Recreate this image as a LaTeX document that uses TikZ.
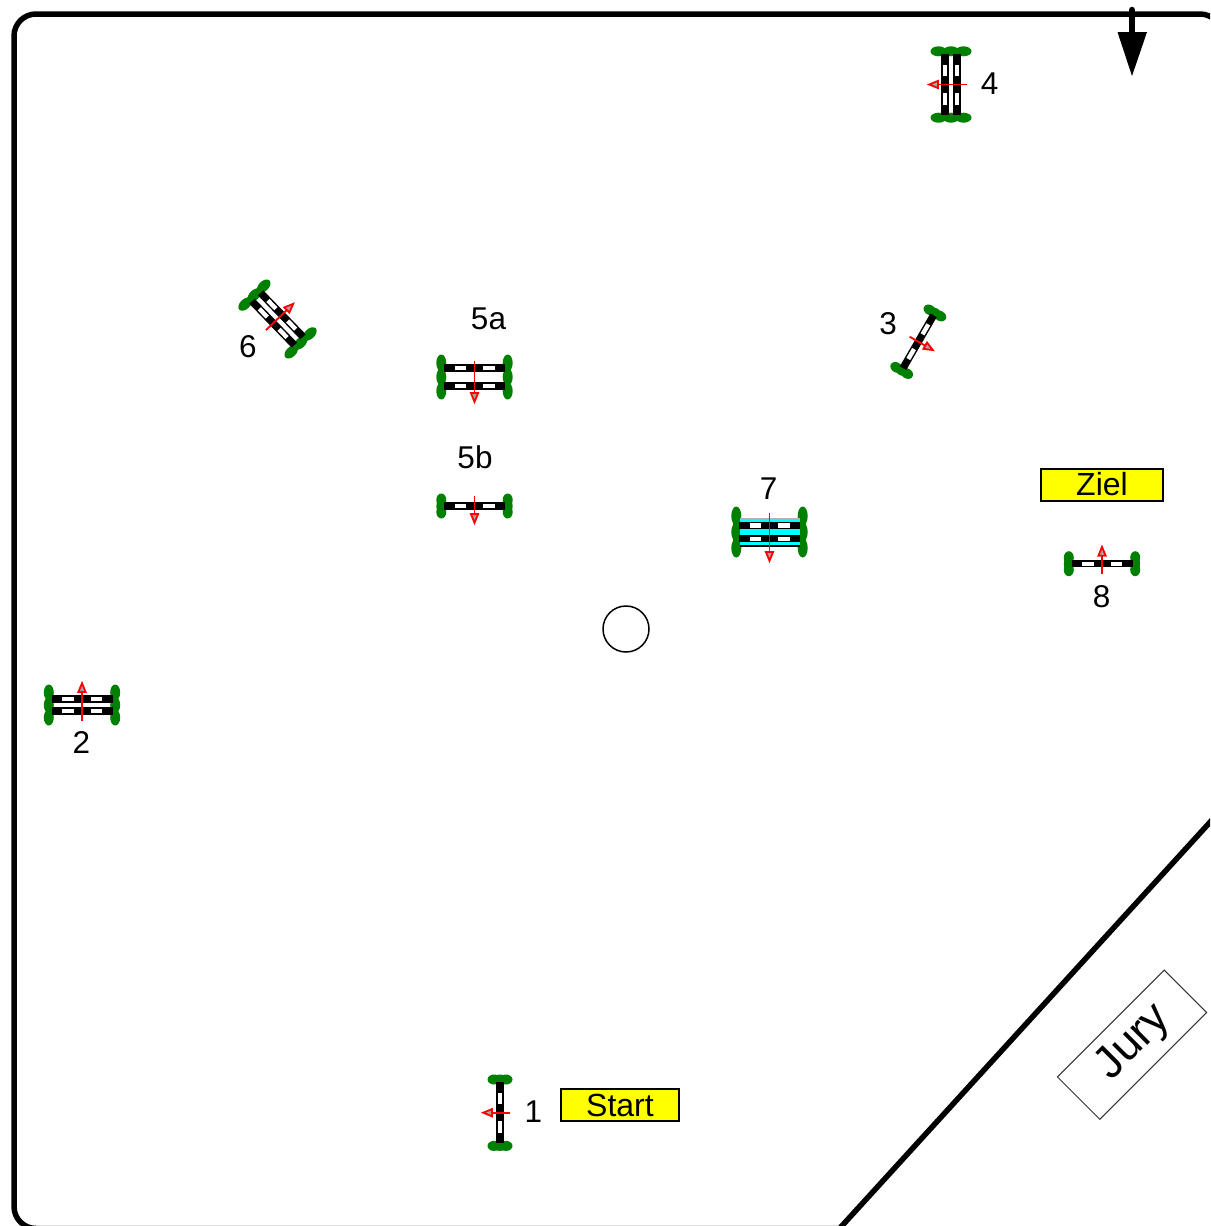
\documentclass[tikz,border=0pt]{standalone}
\usepackage{fontspec}
\setmainfont{Liberation Sans}
\definecolor{treegreen}{RGB}{0,128,0}
\definecolor{water}{RGB}{0,255,255}
\definecolor{flagfill}{RGB}{255,255,0}
\tikzset{
  arena/.style={line width=5.5pt,line join=miter},
  rail/.style={fill=black,draw=none},
  railgap/.style={fill=white,draw=none},
  tree/.style={fill=treegreen,draw=none},
  dirline/.style={draw=red,line width=1.8pt},
  dirhead/.style={draw=red,fill=gray!70,line width=1.8pt,line join=miter},
  lbl/.style={font=\fontsize{31.5}{31.5}\selectfont,inner sep=0pt,text=black},
  flag/.style={draw=black,fill=flagfill,line width=1.5pt,inner sep=0pt,font=\fontsize{32}{32}\selectfont},
}
% one rail at local offset #1
\newcommand{\fencerail}[1]{%
  \fill[rail] (-30.5,#1-3.7) rectangle (30.5,#1+3.7);
  \fill[railgap] (-20,#1-2.2) rectangle (-8.5,#1+2.2);
  \fill[railgap] (8.5,#1-2.2) rectangle (20,#1+2.2);
}
% wing trees: lobe half height (#1), lobes at +-(#2)
\newcommand{\fencetrees}[2]{%
  \foreach \sx in {-33.2,33.2}{
    \fill[tree] (\sx-3.2,-#2) rectangle (\sx+3.2,#2);
    \fill[tree] (\sx,0) ellipse [x radius=5,y radius=#1];
    \fill[tree] (\sx,-#2) ellipse [x radius=5,y radius=#1];
    \fill[tree] (\sx,#2) ellipse [x radius=5,y radius=#1];
  }
}
% direction arrow from local #1 to local #2 along +y
\newcommand{\fencearrow}[2]{%
  \draw[dirline] (0,#1) -- (0,#2-8);
  \filldraw[dirhead] (-3.6,#2-10) -- (3.6,#2-10) -- (0,#2-1.2) -- cycle;
}
% single: x y angle
\newcommand{\singlefence}[3]{%
  \begin{scope}[shift={(#1,#2)},rotate=#3]
    \fencetrees{6.5}{6}
    \fencerail{0}
    \fencearrow{-10}{18}
  \end{scope}
}
% oxer: x y angle half-spacing lobe-height lobe-offset arrow-end
\newcommand{\oxerfence}[7]{%
  \begin{scope}[shift={(#1,#2)},rotate=#3]
    \fencetrees{#5}{#6}
    \fencerail{-#4}
    \fencerail{#4}
    \fencearrow{-16}{#7}
  \end{scope}
}
\begin{document}
\begin{tikzpicture}[x=1pt,y=-1pt]
\useasboundingbox (0,0) rectangle (1210,1226);
\begin{scope}
\clip (0,0) rectangle (1210,1226);
\fill[white] (0,0) rectangle (1210,1226);
% arena outline
\draw[arena] (1222,809) -- (839.5,1228.5) [rounded corners=22pt] -- (14,1228.5) -- (14,14) -- (1222,14) -- (1222,809);
\end{scope}
% north arrow
\coordinate (northstart) at (1132,10);
\coordinate (northbase) at (1132,33);
\coordinate (northtip) at (1132,76);
\draw[line width=6.5pt,line cap=round] (northstart) -- (northbase);
\fill[black] (1117.5,32) -- (1147,32) -- (northtip) -- cycle;
% fences
\singlefence{500}{1112.7}{-90}
\oxerfence{82}{705}{180}{6}{8}{12.5}{23}
\singlefence{918.3}{341.7}{60}
\oxerfence{951}{84.5}{-90}{6}{8}{12.5}{23}
\oxerfence{474.5}{377}{0}{9}{8.5}{14}{26}
\singlefence{474.5}{506}{0}
\oxerfence{277.5}{319}{134}{6}{8}{13}{23}
% water fence 7
\begin{scope}[shift={(769.5,532)}]
  \fencetrees{9.5}{16}
  \fill[black] (-30,-14.5) rectangle (30,14.5);
  \fill[water] (-30,-12.8) rectangle (30,12.8);
  \fill[gray!60] (-30,-14.5) rectangle (30,-13.2);
  \fencerail{-6.7}
  \fencerail{6.7}
  \fencearrow{-19}{30}
\end{scope}
\singlefence{1102}{563.7}{180}
% labels
\node[lbl] (n1) at (533.5,1111.5) {1};
\node[lbl] (n2) at (81.5,742.5) {2};
\node[lbl] (n3) at (888,323.5) {3};
\node[lbl] (n4) at (989.5,83.5) {4};
\node[lbl] (n5a) at (488.5,318.5) {5a};
\node[lbl] (n5b) at (475,457.5) {5b};
\node[lbl] (n6) at (248,346.5) {6};
\node[lbl] (n7) at (768.5,488.5) {7};
\node[lbl] (n8) at (1101.5,596.5) {8};
% start and finish
\node[flag,minimum width=118pt,minimum height=32pt] (start) at (620,1105) {Start};
\node[flag,minimum width=122pt,minimum height=32pt] (ziel) at (1102,485) {\raisebox{2pt}{Ziel}};
% centre circle
\node[draw=black,circle,line width=1.5pt,fill=white,minimum size=46pt,inner sep=0pt] (mid) at (626,629) {};
% jury box
\node[draw=black!80,line width=1pt,rotate=45,minimum width=151pt,minimum height=60pt,inner sep=0pt,font=\fontsize{45.5}{45.5}\selectfont] (jury) at (1132,1044.7) {\hspace*{5pt}\raisebox{-1pt}{Jury}};
\end{tikzpicture}
\end{document}
